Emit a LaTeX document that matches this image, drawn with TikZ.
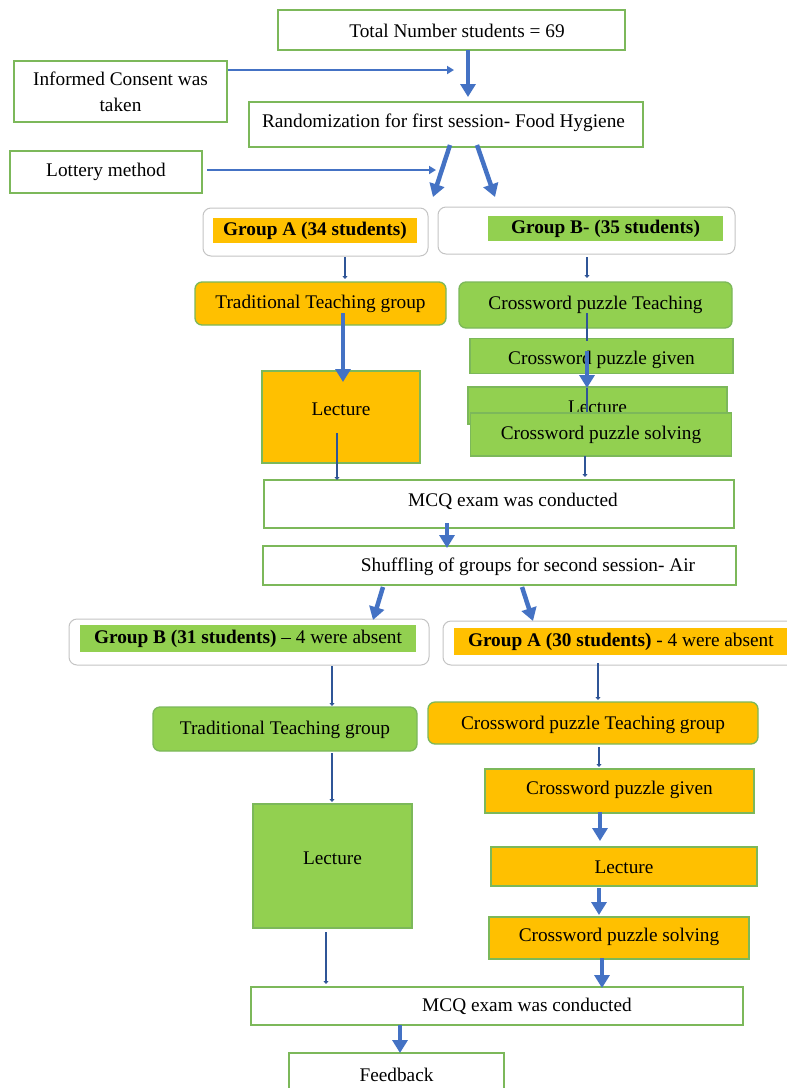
\documentclass[tikz,border=0pt]{standalone}
\usepackage{fontspec}
\setmainfont{Liberation Serif}
\usetikzlibrary{arrows.meta}
\definecolor{myyel}{HTML}{FFC000}
\definecolor{mygrn}{HTML}{92D050}
\definecolor{bord}{HTML}{7CB85A}
\definecolor{myblue}{HTML}{4472C4}
\definecolor{dblue}{HTML}{2F5597}
\definecolor{gbord}{HTML}{C4C4C4}
\begin{document}
\begin{tikzpicture}[x=1pt,y=-1pt,
  every node/.style={font=\fontsize{19.3}{26}\selectfont, inner sep=0pt, outer sep=0pt},
  every label/.style={yshift=-1.5pt},
  box/.style={draw=bord, line width=1.3pt, rectangle, fill=white},
  ybox/.style={box, fill=myyel},
  gbox/.style={box, fill=mygrn},
  yround/.style={ybox, rounded corners=7pt},
  ground/.style={gbox, rounded corners=7pt},
  grpbox/.style={draw=gbord, line width=1pt, rounded corners=8pt, fill=white},
  ytag/.style={fill=myyel, font=\fontsize{19.3}{26}\selectfont\bfseries},
  gtag/.style={fill=mygrn, font=\fontsize{19.3}{26}\selectfont\bfseries},
  bigarrow/.style={draw=myblue, line width=4.5pt, -{Triangle[width=15pt,length=13pt]}},
  thinarrow/.style={draw=myblue, line width=2pt, -{Triangle[width=8pt,length=7pt]}},
  darrow/.style={draw=dblue, line width=2.6pt, -{Triangle[width=5pt,length=3pt]}},
  dline/.style={draw=dblue, line width=2.6pt}
]
\clip (0,0) rectangle (787,1088);
\fill[white] (0,0) rectangle (787,1088);

% ---------- first session ----------
\node[box, minimum width=347pt, minimum height=40pt,
  label={[xshift=5.5pt,yshift=1pt]center:Total Number students = 69}] (tot) at (451.5,30) {};
\node[box, minimum width=213pt, minimum height=61pt, align=center] (inf) at (120.5,91.5) {Informed Consent was\\taken};
\node[box, minimum width=394pt, minimum height=45pt,
  label={[xshift=-2.5pt,yshift=3.5pt]center:Randomization for first session- Food Hygiene}] (rand) at (446,124.5) {};
\node[box, minimum width=192pt, minimum height=42pt,
  label={[yshift=2pt]center:Lottery method}] (lot) at (106,172) {};

\node[grpbox, minimum width=225pt, minimum height=48pt] (gA) at (315.5,232) {};
\node[ytag, minimum width=204pt, minimum height=25pt] (gAt) at (315,230.5) {Group A (34 students)};
\node[grpbox, minimum width=297pt, minimum height=47pt] (gB) at (586.5,230.5) {};
\node[gtag, minimum width=235pt, minimum height=25pt] (gBt) at (605.5,228.5) {Group B- (35 students)};

\node[yround, minimum width=251pt, minimum height=43pt,
  label={[yshift=1.5pt]center:Traditional Teaching group}] (tt1) at (320.5,303.5) {};
\node[ground, minimum width=273pt, minimum height=46pt,
  label={[yshift=2pt]center:Crossword puzzle Teaching}] (cpt1) at (595.5,305) {};
\node[ybox, minimum width=158pt, minimum height=92pt,
  label={[yshift=9pt]center:Lecture}] (lec1) at (341,417) {};
\node[gbox, minimum width=263pt, minimum height=35pt,
  label={[yshift=-2pt]center:Crossword puzzle given}] (cpg1) at (601.5,356) {};
\node[gbox, minimum width=259pt, minimum height=37pt,
  label={[yshift=0pt]center:Lecture}] (lec1b) at (597.5,405.5) {};
\node[gbox, minimum width=261pt, minimum height=43pt,
  label={[yshift=1.5pt]center:Crossword puzzle solving}] (cps1) at (601,434.5) {};

\node[box, minimum width=470pt, minimum height=48pt,
  label={[xshift=14pt,yshift=4pt]center:MCQ exam was conducted}] (mcq1) at (499,504) {};
\node[box, minimum width=473pt, minimum height=39pt,
  label={[xshift=28.5pt]center:Shuffling of groups for second session- Air}] (shuf) at (499.5,565.5) {};

% ---------- second session ----------
\node[grpbox, minimum width=360pt, minimum height=46pt] (gB2) at (249,642) {};
\node[fill=mygrn, minimum width=336pt, minimum height=27pt] (gB2t) at (248,638.5) {\textbf{Group B (31 students)} -- 4 were absent};
\node[grpbox, minimum width=357pt, minimum height=44pt] (gA2) at (621.5,643) {};
\node[fill=myyel, minimum height=27pt, text width=318pt, inner xsep=14pt, align=flush left] (gA2t) at (627,641.5) {\textbf{Group A (30 students)} - 4 were absent};

\node[ground, minimum width=264pt, minimum height=44pt,
  label={[yshift=1pt]center:Traditional Teaching group}] (tt2) at (285,729) {};
\node[yround, minimum width=330pt, minimum height=42pt,
  label={[yshift=0pt]center:Crossword puzzle Teaching group}] (cpt2) at (593,723) {};
\node[gbox, minimum width=159pt, minimum height=124pt,
  label={[yshift=9pt]center:Lecture}] (lec2) at (332.5,866) {};
\node[ybox, minimum width=269pt, minimum height=44pt,
  label={[yshift=3pt]center:Crossword puzzle given}] (cpg2) at (619.5,791) {};
\node[ybox, minimum width=266pt, minimum height=39pt,
  label={[yshift=0.5pt]center:Lecture}] (lec2b) at (624,866.5) {};
\node[ybox, minimum width=260pt, minimum height=42pt,
  label={[yshift=3pt]center:Crossword puzzle solving}] (cps2) at (619,938) {};

\node[box, minimum width=492pt, minimum height=38pt,
  label={[xshift=30pt,yshift=1pt]center:MCQ exam was conducted}] (mcq2) at (497,1006) {};
\node[box, minimum width=215pt, minimum height=44pt,
  label={[yshift=2pt]center:Feedback}] (fb) at (396.5,1075) {};

% ---------- connectors ----------
\coordinate (infend) at (454,70);
\coordinate (lotend) at (436,170);
\draw[thinarrow] ([xshift=1pt,yshift=21.5pt]inf.east) -- (infend);
\draw[thinarrow] ([xshift=5pt,yshift=2pt]lot.east) -- (lotend);
\draw[bigarrow] ([xshift=16.5pt]tot.south) -- ([xshift=22pt,yshift=5pt]rand.north);
\draw[bigarrow] ([xshift=4pt,yshift=2pt]rand.south) -- ([xshift=117.5pt,yshift=11pt]gA.north);
\draw[bigarrow] ([xshift=31pt,yshift=2pt]rand.south) -- ([xshift=-91.5pt,yshift=10pt]gB.north);

\draw[darrow] ([xshift=29.5pt,yshift=-1pt]gA.south) -- ([xshift=24.5pt,yshift=3pt]tt1.north);
\draw[darrow] ([xshift=0.5pt,yshift=-3pt]gB.south) -- ([xshift=-8.5pt,yshift=4pt]cpt1.north);
\draw[bigarrow, line width=3.5pt] ([xshift=22.5pt,yshift=-9.5pt]tt1.center) -- ([xshift=2pt,yshift=-11pt]lec1.north);

\draw[dline] ([xshift=-8.5pt,yshift=-8pt]cpt1.center) -- ([xshift=-14.5pt,yshift=-2pt]cpg1.north);
\draw[bigarrow, line width=3.5pt] ([xshift=-14.5pt,yshift=-12pt]cpg1.north) -- ([xshift=-10.5pt,yshift=-1pt]lec1b.north);
\draw[dline] ([xshift=-10.5pt,yshift=-1pt]lec1b.north) -- ([xshift=-14pt,yshift=1pt]cps1.north);

\draw[darrow] ([xshift=-4pt,yshift=-16pt]lec1.center) -- ([xshift=-162pt,yshift=0pt]mcq1.north);
\draw[darrow] ([xshift=-16pt]cps1.south) -- ([xshift=86pt,yshift=3pt]mcq1.north);
\draw[bigarrow] ([xshift=-52pt,yshift=5pt]mcq1.south) -- ([xshift=-52.5pt,yshift=-2pt]shuf.north);
\draw[bigarrow] ([xshift=-116.5pt,yshift=-2pt]shuf.south) -- ([xshift=124pt,yshift=-1pt]gB2.north);
\draw[bigarrow] ([xshift=22.5pt,yshift=-2pt]shuf.south) -- ([xshift=-88.5pt]gA2.north);

\draw[darrow] ([xshift=83pt,yshift=-1pt]gB2.south) -- ([xshift=47pt,yshift=1pt]tt2.north);
\draw[darrow] ([xshift=-23.5pt,yshift=2pt]gA2.south) -- ([xshift=5pt,yshift=2pt]cpt2.north);
\draw[darrow] ([xshift=47pt,yshift=-2pt]tt2.south) -- ([xshift=-0.5pt,yshift=2pt]lec2.north);
\draw[darrow] ([xshift=6pt,yshift=-3pt]cpt2.south) -- ([xshift=-20.5pt,yshift=2pt]cpg2.north);
\draw[bigarrow] ([xshift=-19.5pt,yshift=1pt]cpg2.south) -- ([xshift=-24pt,yshift=6pt]lec2b.north);
\draw[bigarrow] ([xshift=-25pt,yshift=-2pt]lec2b.south) -- ([xshift=-20pt,yshift=2pt]cps2.north);
\draw[bigarrow] ([xshift=-17pt,yshift=1pt]cps2.south) -- ([xshift=105pt,yshift=-1pt]mcq2.north);
\draw[darrow] ([xshift=-6.5pt,yshift=-4pt]lec2.south) -- ([xshift=-171pt,yshift=3pt]mcq2.north);
\draw[bigarrow] ([xshift=-97pt]mcq2.south) -- ([xshift=3.5pt]fb.north);
\end{tikzpicture}
\end{document}
